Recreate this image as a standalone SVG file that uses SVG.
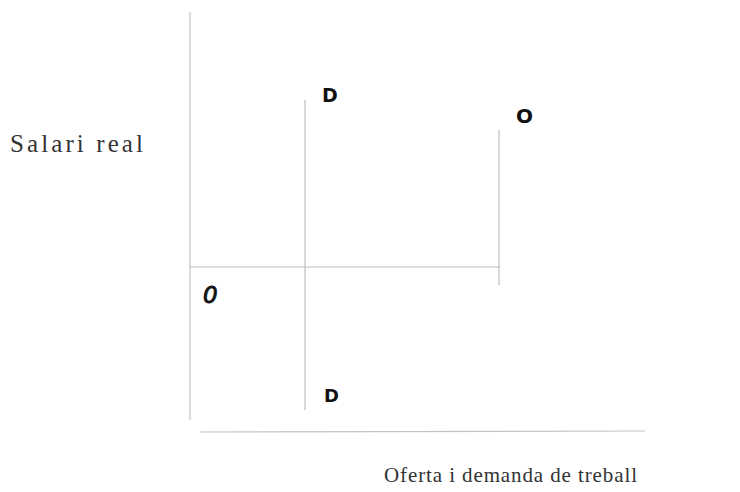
<svg xmlns="http://www.w3.org/2000/svg" width="740" height="492" viewBox="0 0 740 492">
<style>
.ax{stroke:#c4c4c4;stroke-width:1.2;fill:none}
.cv{stroke:#bdbdbd;stroke-width:1.2;fill:none}
.lbl{font-family:"Liberation Serif",serif;fill:#333}
.hw{font-family:"DejaVu Sans",sans-serif;font-weight:bold;fill:#111}
</style>
<rect width="740" height="492" fill="#fff"/>
<g id="connectors">
<line class="ax" x1="190" y1="12" x2="190" y2="420"/>
<line class="ax" x1="200" y1="432" x2="645" y2="431"/>
<line class="cv" x1="190" y1="267" x2="500" y2="267"/>
<line class="cv" x1="305" y1="100" x2="305" y2="410"/>
<line class="cv" x1="499" y1="130" x2="499" y2="285"/>
</g>
<g id="axis-y"><text class="lbl" x="10" y="152" font-size="25" textLength="133" lengthAdjust="spacing">Salari real</text></g>
<g id="axis-x"><text class="lbl" x="384" y="482" font-size="21" textLength="253" lengthAdjust="spacing">Oferta i demanda de treball</text></g>
<g id="D-top"><text class="hw" x="322" y="102" font-size="19">D</text></g>
<g id="O-top"><text class="hw" x="516" y="123" font-size="20">O</text></g>
<g id="O-bottom"><text class="hw" x="203" y="303" font-size="23" stroke="#111" stroke-width="0.9" style="font-style:italic;font-weight:normal">0</text></g>
<g id="D-bottom"><text class="hw" x="324" y="402" font-size="18">D</text></g>
</svg>
